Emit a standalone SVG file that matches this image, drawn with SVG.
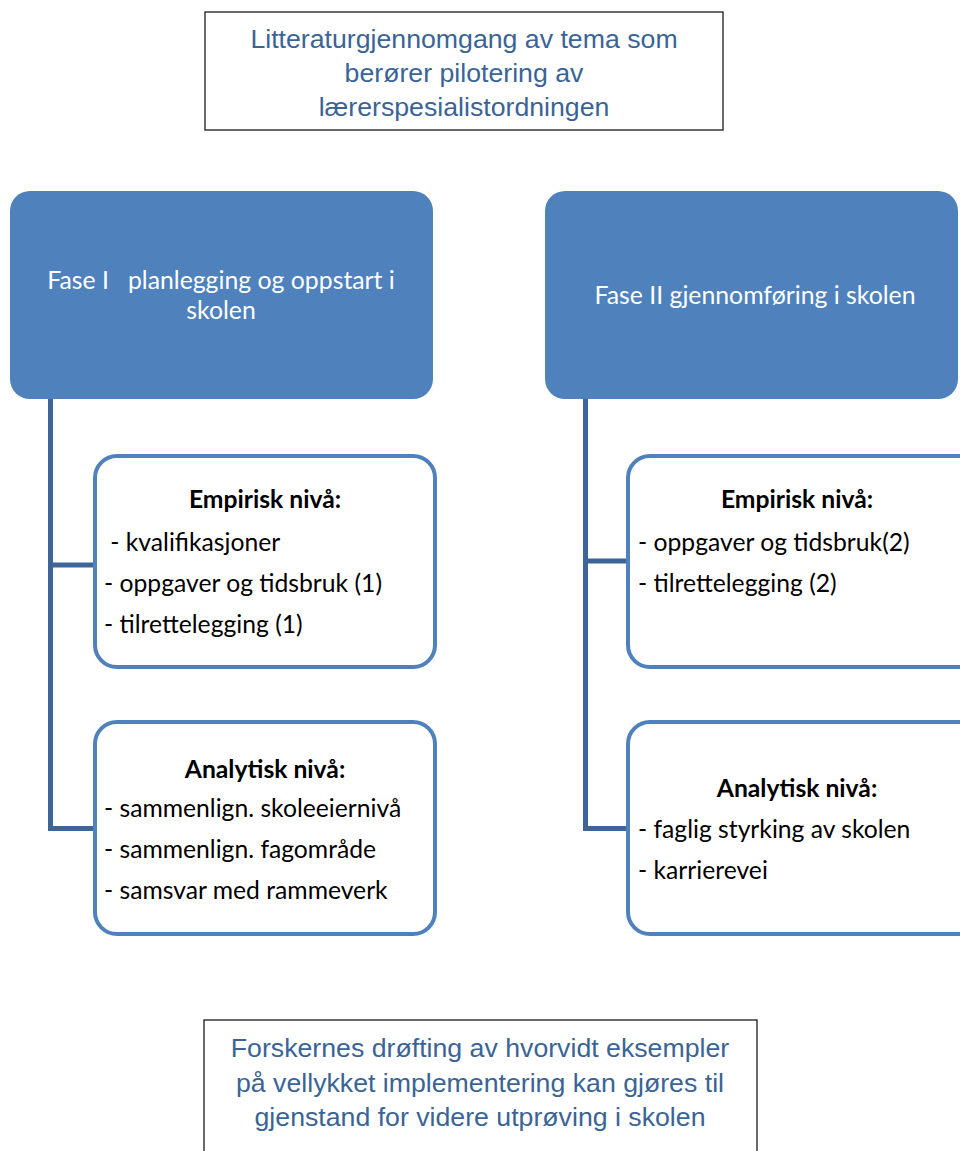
<svg xmlns="http://www.w3.org/2000/svg" width="960" height="1151" viewBox="0 0 960 1151">
<style>
.bg{fill:#ffffff}
.plain{fill:#ffffff;stroke:#1a1a1a;stroke-width:1.3}
.phase{fill:#4f81bd;stroke:none}
.sub{fill:#ffffff;stroke:#4f81bd;stroke-width:4}
.conn{fill:none;stroke:#3e6598;stroke-width:5}
.arial{font-family:"Liberation Sans",Arial,sans-serif;font-size:26.7px;fill:#3a6496;text-anchor:middle}
.ph{font-family:Lato,"Open Sans",sans-serif;font-size:24.8px;fill:#ffffff;text-anchor:middle}
.t{font-family:Lato,"Open Sans",sans-serif;font-size:24.7px;fill:#000000}
.h{font-family:Lato,"Open Sans",sans-serif;font-size:24.7px;font-weight:bold;fill:#000000;text-anchor:middle}
</style>
<rect class="bg" x="0" y="0" width="960" height="1151"/>
<g id="connectors">
<path class="conn" d="M50.5,399 V828.5 H96"/>
<path class="conn" d="M50.5,565 H96"/>
<path class="conn" d="M585.5,399 V828.5 H629"/>
<path class="conn" d="M585.5,561 H629"/>
</g>
<g id="top">
<rect class="plain" x="205" y="12" width="518" height="118"/>
<text class="arial" x="464" y="48">Litteraturgjennomgang av tema som</text>
<text class="arial" x="464" y="82">berører pilotering av</text>
<text class="arial" x="464" y="116">lærerspesialistordningen</text>
</g>
<g id="fase1">
<rect class="phase" x="10" y="191" width="423" height="208" rx="20"/>
<text class="ph" x="221" y="289" xml:space="preserve">Fase I   planlegging og oppstart i</text>
<text class="ph" x="221" y="319">skolen</text>
</g>
<g id="fase2">
<rect class="phase" x="545" y="191" width="413" height="208" rx="20"/>
<text class="ph" x="755" y="304">Fase II gjennomføring i skolen</text>
</g>
<g id="emp1">
<rect class="sub" x="95" y="456" width="340" height="211" rx="22"/>
<text class="h" x="265" y="508">Empirisk nivå:</text>
<text class="t" x="104" y="551" xml:space="preserve"> - kvalifikasjoner</text>
<text class="t" x="104" y="592">- oppgaver og tidsbruk (1)</text>
<text class="t" x="104" y="633">- tilrettelegging (1)</text>
</g>
<g id="ana1">
<rect class="sub" x="95" y="722" width="340" height="212" rx="22"/>
<text class="h" x="265" y="778">Analytisk nivå:</text>
<text class="t" x="104" y="817">- sammenlign. skoleeiernivå</text>
<text class="t" x="104" y="858">- sammenlign. fagområde</text>
<text class="t" x="104" y="899">- samsvar med rammeverk</text>
</g>
<g id="emp2">
<rect class="sub" x="628" y="456" width="360" height="211" rx="22"/>
<text class="h" x="797" y="508">Empirisk nivå:</text>
<text class="t" x="638" y="551">- oppgaver og tidsbruk(2)</text>
<text class="t" x="638" y="592">- tilrettelegging (2)</text>
</g>
<g id="ana2">
<rect class="sub" x="628" y="722" width="360" height="212" rx="22"/>
<text class="h" x="797" y="797">Analytisk nivå:</text>
<text class="t" x="638" y="838">- faglig styrking av skolen</text>
<text class="t" x="638" y="879">- karrierevei</text>
</g>
<g id="bottom">
<rect class="plain" x="204" y="1020" width="553" height="160"/>
<text class="arial" x="480" y="1057">Forskernes drøfting av hvorvidt eksempler</text>
<text class="arial" x="480" y="1092">på vellykket implementering kan gjøres til</text>
<text class="arial" x="480" y="1126">gjenstand for videre utprøving i skolen</text>
</g>
</svg>
